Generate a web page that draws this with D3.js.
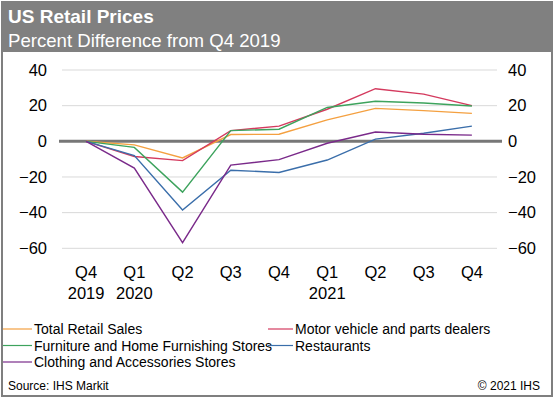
<!DOCTYPE html>
<html><head><meta charset="utf-8">
<script src="https://cdn.jsdelivr.net/npm/d3@7"></script>
<style>html,body{margin:0;padding:0;background:#fff;}svg{display:block;font-family:"Liberation Sans",Arial,sans-serif;}</style>
</head><body>
<svg id="c" width="557" height="398"></svg>
<script>
const quarters = ["Q4","Q1","Q2","Q3","Q4","Q1","Q2","Q3","Q4"];
const years = ["2019","2020","","","","2021","","",""];
const seriesNames = ["Total Retail Sales","Motor vehicle and parts dealers","Furniture and Home Furnishing Stores","Restaurants","Clothing and Accessories Stores"];
const seriesColors = ["#f4a040","#d43a5e","#3da35d","#3a6eaa","#7a2a8a"];
const totalRetail = [0,-2,-9.3,3.8,4,12,18.5,17.2,15.7];
const motorVehicle = [0,-8.5,-10.8,6,8.5,18,29.5,26.5,20];
const furniture = [0,-3.4,-28.5,6,6.8,19,22.5,21.5,19.8];
const restaurants = [0,-8,-38.5,-16.2,-17.5,-10.5,1.2,4.5,8.5];
const clothing = [0,-15,-56.8,-13.3,-10.3,-1.1,5.2,4,3.5];
const yTicks = [40,20,0,-20,-40,-60];

const seriesValues = [totalRetail, motorVehicle, furniture, restaurants, clothing];
const svg = d3.select("#c");

// frame
svg.append("rect").attr("x",2).attr("y",2).attr("width",550).attr("height",394)
  .attr("fill","#fff").attr("stroke","#7f7f7f").attr("stroke-width",2);
svg.append("rect").attr("x",2).attr("y",2).attr("width",551).attr("height",50).attr("fill","#808080");
svg.append("text").attr("x",8).attr("y",23).attr("fill","#fff").attr("font-size",19).attr("font-weight","bold").text("US Retail Prices");
svg.append("text").attr("x",8).attr("y",47).attr("fill","#fff").attr("font-size",18.6).text("Percent Difference from Q4 2019");

const x = d3.scaleBand().domain(d3.range(quarters.length)).range([62,496]);
const y = d3.scaleLinear().domain([-60,40]).range([248.3,70]);
const cx = i => x(i) + x.bandwidth()/2;

// gridlines
svg.append("g").selectAll("line").data(yTicks.filter(t=>t!==0)).join("line")
  .attr("x1",62).attr("x2",497).attr("y1",d=>y(d)).attr("y2",d=>y(d))
  .attr("stroke","#d9d9d9").attr("stroke-width",1);

// axes labels
const yl = d3.axisLeft(y).tickValues(yTicks).tickSize(0).tickPadding(0);
const gL = svg.append("g").attr("transform","translate(47,0)").call(yl);
const yr = d3.axisRight(y).tickValues(yTicks).tickSize(0).tickPadding(0);
const gR = svg.append("g").attr("transform","translate(508,0)").call(yr);
[gL,gR].forEach(g=>{g.select(".domain").remove();g.selectAll("text").attr("font-size",16.5).attr("fill","#000").attr("font-family","Liberation Sans, Arial, sans-serif");});

// zero line
svg.append("line").attr("x1",59).attr("x2",502).attr("y1",y(0)).attr("y2",y(0)).attr("stroke","#777").attr("stroke-width",3);

// x labels
const gx = svg.append("g");
gx.selectAll("text.q").data(quarters).join("text").attr("class","q")
  .attr("x",(d,i)=>cx(i)).attr("y",277.5).attr("text-anchor","middle").attr("font-size",16.5).text(d=>d);
gx.selectAll("text.yr").data(years).join("text").attr("class","yr")
  .attr("x",(d,i)=>cx(i)).attr("y",298.5).attr("text-anchor","middle").attr("font-size",16.5).text(d=>d);

// lines
const line = d3.line().x((d,i)=>cx(i)).y(d=>y(d));
svg.append("g").selectAll("path").data(seriesValues).join("path")
  .attr("d",d=>line(d)).attr("fill","none").attr("stroke",(d,i)=>seriesColors[i]).attr("stroke-width",1.4);

// legend
const legPos = [[3,329],[268,329],[3,345.5],[268,345.5],[3,362]];
const lg = svg.append("g").selectAll("g").data(seriesNames).join("g")
  .attr("transform",(d,i)=>`translate(${legPos[i][0]},${legPos[i][1]})`);
lg.append("line").attr("x1",0).attr("x2",(d,i)=>i%2?25:29).attr("y1",0).attr("y2",0)
  .attr("stroke",(d,i)=>seriesColors[i]).attr("stroke-width",1.2);
lg.append("text").attr("x",(d,i)=>i%2?27:31).attr("y",5).attr("font-size",14).text(d=>d);

svg.append("text").attr("x",8).attr("y",390).attr("font-size",12).text("Source: IHS Markit");
svg.append("text").attr("x",540).attr("y",390).attr("font-size",12).attr("text-anchor","end").text("© 2021 IHS");
</script>
</body></html>
